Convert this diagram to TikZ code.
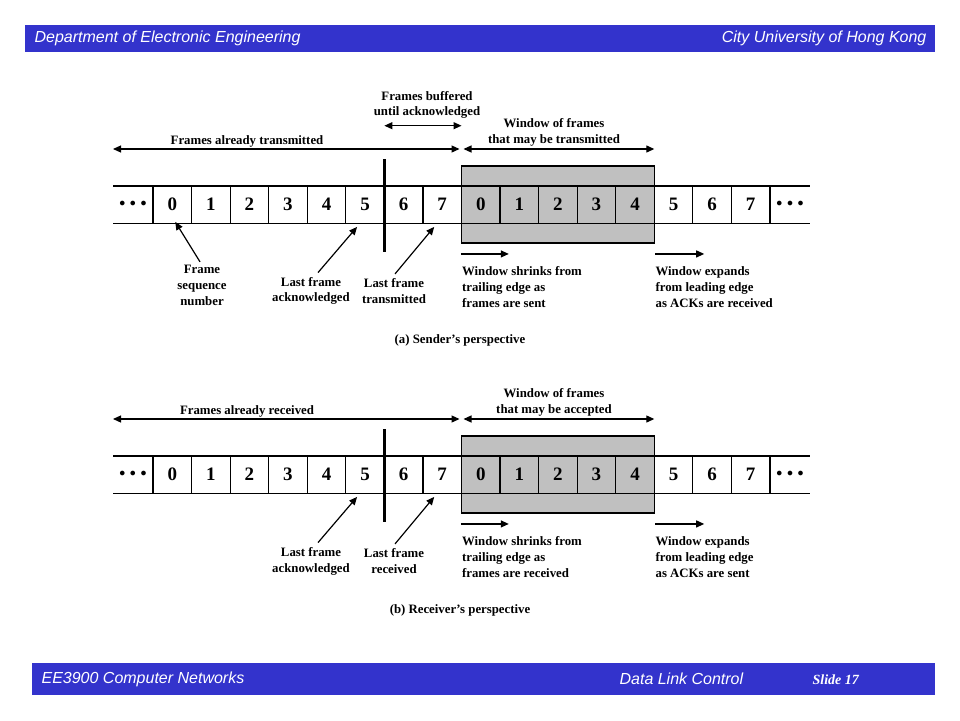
\documentclass[tikz,border=0pt]{standalone}
\usepackage{fontspec}
\setmainfont{Liberation Serif}
\newfontfamily\hdrfont{Liberation Sans}
\usetikzlibrary{positioning}
\usetikzlibrary{arrows.meta}
\definecolor{barblue}{RGB}{51,51,204}
\definecolor{wingray}{RGB}{192,192,192}

\begin{document}
\begin{tikzpicture}[
            x = 1pt, y = -1pt, % pixel grid, y downwards
            > = {Triangle[length=8pt,width=7pt]}, % arrow head style
            line width = 1.2pt
        ]

        \tikzstyle{cell}=[
            draw,
            line width = 1.2pt,
            minimum width = 38.56pt,
            minimum height = 37.3pt,
            inner sep = 0pt,
            font = \fontsize{19}{19}\selectfont\bfseries
        ]
        \tikzstyle{window}=[draw, line width = 1.6pt, fill = wingray,
            minimum width = 192.8pt, minimum height = 77pt, inner sep = 0pt]
        \tikzstyle{lbl}=[align = center, inner sep = 0pt,
            font = \fontsize{12.8}{15.8}\selectfont\bfseries]
        \tikzstyle{note}=[align = left, anchor = north west, inner sep = 0pt,
            font = \fontsize{12.8}{15.8}\selectfont\bfseries]
        \tikzstyle{dots}=[inner sep = 0pt, font = \fontsize{13}{13}\selectfont]
        \tikzstyle{bartext}=[text = white, inner sep = 0pt,
            font = \hdrfont\itshape\fontsize{16}{16}\selectfont]

        \useasboundingbox (0,0) rectangle (960,720);

        % header and footer bars
        \fill[barblue] (25,25) rectangle (935,52);
        \node[bartext, anchor = west] (Dept) at (34,38.5) {Department of Electronic Engineering};
        \node[bartext, anchor = east] (Univ) at (927,38.5) {City University of Hong Kong};

        \fill[barblue] (32,663) rectangle (935,695);
        \node[bartext, anchor = west] (Course) at (41,679) {EE3900 Computer Networks};
        \node[bartext, anchor = west] (Topic) at (619,679) {Data Link Control};
        \node[bartext, anchor = west, font = \bfseries\itshape\fontsize{14}{14}\selectfont] (Slide) at (812,680) {Slide 17};

	% (a) sender
        \node[window] (sWin) at (558,204.65) {};
        \draw[line width = 1.6pt] (113,186) -- (810,186);
        \draw[line width = 1.6pt] (113,223.3) -- (810,223.3);
        \foreach \i in {0,...,15} {
            \pgfmathtruncatemacro\d{mod(\i,8)}
            \node[cell] (s\i) at ({172.28+38.56*\i},204.65) {\d};
        }
        \node[dots] (sDotsL) at (133,204) {$\bullet\hspace{2pt}\bullet\hspace{2pt}\bullet$};
        \node[dots] (sDotsR) at (790,204) {$\bullet\hspace{2pt}\bullet\hspace{2pt}\bullet$};

        \coordinate (sCutT) at (384.4,159);
        \coordinate (sCutB) at (384.4,252);
        \draw[line width = 3pt] (sCutT) -- (sCutB);

        \coordinate (sTxL) at (113,149);
        \coordinate (sTxR) at (459.5,149);
        \coordinate (sWinL) at (463.5,149);
        \coordinate (sWinR) at (654.3,149);
        \coordinate (sBufL) at (384.4,125.7);
        \coordinate (sBufR) at (461.5,125.7);
        \draw[<->] (sTxL) -- (sTxR);
        \draw[<->] (sWinL) -- (sWinR);
        \draw[<->] (sBufL) -- (sBufR);

        \node[lbl] (sBuf) at (427,105) {Frames buffered\\until acknowledged};
        \node[lbl] (sTx) at (247,141) {Frames already transmitted};
        \node[lbl] (sWinTx) at (554,132.5) {Window of frames\\that may be transmitted};

        \node[lbl] (sSeq) at (202,285.5) {Frame\\sequence\\number};
        \node[lbl] (sAck) at (311,291) {Last frame\\acknowledged};
        \node[lbl] (sLast) at (394,291) {Last frame\\transmitted};
        \draw[->] ([xshift=-2pt,yshift=3pt]sSeq.north) -- ([xshift=3pt,yshift=2pt]s0.south);
        \draw[->] ([xshift=7pt,yshift=4pt]sAck.north) -- ([xshift=-8pt,yshift=-3pt]s5.south);
        \draw[->] ([xshift=1pt,yshift=4pt]sLast.north) -- ([xshift=-8pt,yshift=-3pt]s7.south);

        \draw[->] ([yshift=-10pt]sWin.south west) -- ++(48,0);
        \draw[->] ([yshift=-10pt]sWin.south east) -- ++(49,0);
        \node[note] (sShrink) at (461.5,266) {Window shrinks from\\trailing edge as\\frames are sent};
        \node[note] (sExpand) at (655,266) {Window expands\\from leading edge\\as ACKs are received};

        \node[lbl] (sCap) at (460,340) {(a) Sender's perspective};

	% (b) receiver
        \node[window] (rWin) at (558,474.65) {};
        \draw[line width = 1.6pt] (113,456) -- (810,456);
        \draw[line width = 1.6pt] (113,493.3) -- (810,493.3);
        \foreach \i in {0,...,15} {
            \pgfmathtruncatemacro\d{mod(\i,8)}
            \node[cell] (r\i) at ({172.28+38.56*\i},474.65) {\d};
        }
        \node[dots] (rDotsL) at (133,474) {$\bullet\hspace{2pt}\bullet\hspace{2pt}\bullet$};
        \node[dots] (rDotsR) at (790,474) {$\bullet\hspace{2pt}\bullet\hspace{2pt}\bullet$};

        \coordinate (rCutT) at (384.4,429);
        \coordinate (rCutB) at (384.4,522);
        \draw[line width = 3pt] (rCutT) -- (rCutB);

        \coordinate (rRxL) at (113,419);
        \coordinate (rRxR) at (459.5,419);
        \coordinate (rWinL) at (463.5,419);
        \coordinate (rWinR) at (654.3,419);
        \draw[<->] (rRxL) -- (rRxR);
        \draw[<->] (rWinL) -- (rWinR);

        \node[lbl] (rRx) at (247,411) {Frames already received};
        \node[lbl] (rWinRx) at (554,402.5) {Window of frames\\that may be accepted};

        \node[lbl] (rAck) at (311,561) {Last frame\\acknowledged};
        \node[lbl] (rLast) at (394,561) {Last frame\\received};
        \draw[->] ([xshift=7pt,yshift=4pt]rAck.north) -- ([xshift=-8pt,yshift=-3pt]r5.south);
        \draw[->] ([xshift=1pt,yshift=4pt]rLast.north) -- ([xshift=-8pt,yshift=-3pt]r7.south);

        \draw[->] ([yshift=-10pt]rWin.south west) -- ++(48,0);
        \draw[->] ([yshift=-10pt]rWin.south east) -- ++(49,0);
        \node[note] (rShrink) at (461.5,536) {Window shrinks from\\trailing edge as\\frames are received};
        \node[note] (rExpand) at (655,536) {Window expands\\from leading edge\\as ACKs are sent};

        \node[lbl] (rCap) at (460,610) {(b) Receiver's perspective};

  \end{tikzpicture}
\end{document}
